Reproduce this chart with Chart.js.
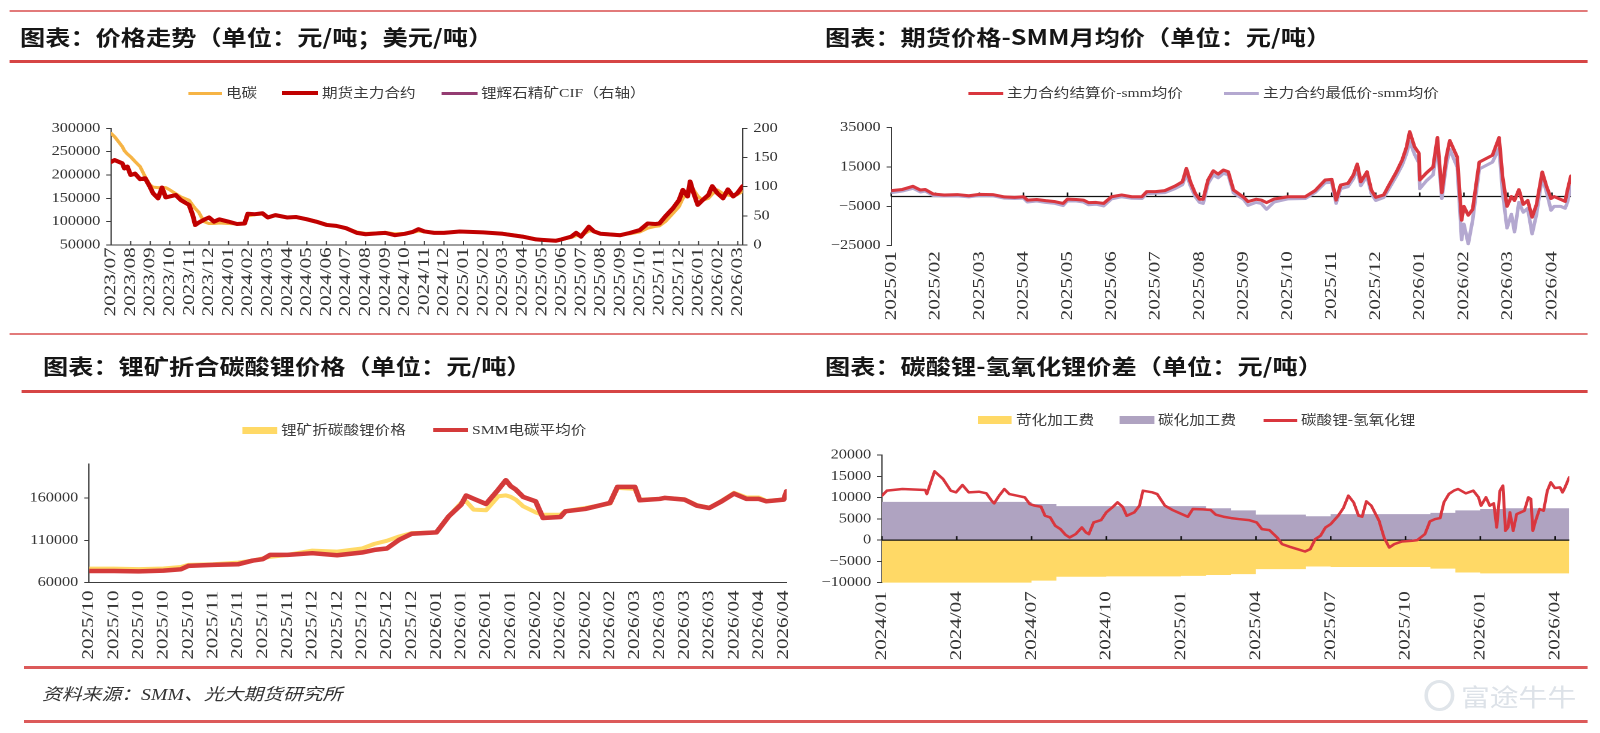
<!DOCTYPE html>
<html lang="zh-CN">
<head>
<meta charset="utf-8">
<title>碳酸锂价格图表</title>
<script src="https://cdn.jsdelivr.net/npm/chart.js@4.4.1/dist/chart.umd.min.js"></script>
<style>
  html, body { margin:0; padding:0; background:#fff; }
  body { width:1600px; height:733px; overflow:hidden; position:relative; }
  #page { position:absolute; left:0; top:0; width:1333.34px; height:733px; transform:scaleX(1.2); transform-origin:0 0; }
  .rule, .swatch, .chartbox { position:absolute; }
  .txt { position:absolute; white-space:nowrap; }
  .title { font-family:"Noto Sans CJK SC", sans-serif; font-weight:700; font-size:21px; line-height:26px; color:#161616; }
  .leg { font-family:"Liberation Serif","Noto Sans CJK SC",serif; font-size:13px; line-height:16px; color:#3a3a3a; }
  .foot { font-family:"Liberation Serif","Noto Sans CJK SC",serif; font-style:italic; font-size:16.5px; line-height:22px; color:#333; }
  .wm { font-family:"Noto Sans CJK SC",sans-serif; font-size:24px; line-height:30px; color:#dde2e8; }
</style>
</head>
<body>
<div id="page"></div>
<script>
// ================= DATA =================
// Chart 1: 价格走势 (x = months since 2023/07)
const c1Labels = ['2023/07','2023/08','2023/09','2023/10','2023/11','2023/12','2024/01','2024/02','2024/03','2024/04','2024/05','2024/06','2024/07','2024/08','2024/09','2024/10','2024/11','2024/12','2025/01','2025/02','2025/03','2025/04','2025/05','2025/06','2025/07','2025/08','2025/09','2025/10','2025/11','2025/12','2026/01','2026/02','2026/03'];
const c1X = [0,0.18,0.57,0.68,0.83,1.0,1.22,1.48,1.74,1.98,2.14,2.4,2.6,2.79,3.0,3.3,3.57,3.98,4.17,4.3,4.48,4.74,5.0,5.26,5.52,6.0,6.43,6.82,6.98,7.34,7.73,8.0,8.39,8.98,9.43,10.0,10.47,11.0,11.5,12.0,12.55,13.0,13.6,14.0,14.5,15.0,15.4,15.7,16.0,16.5,17.0,17.8,19.0,20.0,21.0,21.7,22.0,22.7,23.0,23.5,23.75,24.0,24.4,24.66,25.0,26.0,26.5,27.0,27.4,27.8,28.0,28.3,28.7,29.0,29.2,29.44,29.57,29.75,29.96,30.2,30.5,30.7,30.96,31.25,31.5,31.77,31.98,32.25];
const c1Carbonate = [289000,282000,261000,252000,245000,239000,229000,218000,196000,179000,174000,173000,173000,173000,168000,160000,153000,146000,135000,128000,120000,100000,96000,96000,97000,96000,95000,95000,112000,115000,116000,110000,113000,110000,110000,106000,101000,94000,91000,86000,78000,75000,76000,77000,74000,75000,77000,80000,78000,77000,77000,79000,77000,75000,69000,63000,61000,60000,62000,66000,70000,70000,80000,80000,75000,72000,74000,78000,86000,90000,91000,100000,118000,132000,150000,161000,165000,168000,155000,146000,150000,159000,168000,160000,157000,155000,158000,165000];
const c1Futures = [228000,232000,225000,214000,218000,200000,203000,191000,193000,175000,161000,150000,173000,152000,154000,157000,146000,136000,114000,93000,98000,104000,109000,100000,105000,100000,95000,96000,117000,116000,118000,109000,114000,109000,110000,105000,100000,93000,91000,86000,76000,73000,75000,76000,71000,74000,78000,84000,79000,76000,76000,79000,77000,74000,68000,62000,61000,59000,62000,68000,76000,68000,89000,79000,74000,71000,76000,82000,96000,95000,96000,111000,129000,146000,168000,154000,186000,161000,136000,146000,157000,176000,161000,150000,169000,154000,161000,176000];
const c1Spodumene = []; // 锂辉石精矿CIF（右轴）: no visible line in the reference

// Chart 2: 期货价格-SMM月均价 (x = months since 2025/01)
const c2Labels = ['2025/01','2025/02','2025/03','2025/04','2025/05','2025/06','2025/07','2025/08','2025/09','2025/10','2025/11','2025/12','2026/01','2026/02','2026/03','2026/04'];
const c2X = [0,0.25,0.49,0.66,0.77,0.95,1.2,1.5,1.76,2.0,2.3,2.57,2.8,3.0,3.09,3.3,3.5,3.72,3.9,4.0,4.2,4.36,4.48,4.65,4.82,5.0,5.23,5.46,5.69,5.8,6.0,6.21,6.44,6.61,6.7,6.79,6.9,7.0,7.08,7.19,7.31,7.42,7.54,7.65,7.77,8.0,8.1,8.28,8.4,8.52,8.69,9.0,9.4,9.62,9.85,10.0,10.1,10.2,10.37,10.49,10.58,10.66,10.8,10.9,11.0,11.18,11.3,11.47,11.6,11.7,11.77,11.88,11.98,12.0,12.15,12.3,12.4,12.5,12.6,12.68,12.85,12.95,13.0,13.1,13.2,13.28,13.35,13.65,13.8,13.88,13.98,14.08,14.15,14.25,14.35,14.45,14.55,14.65,14.78,14.88,14.98,15.05,15.2,15.3,15.35,15.43];
const c2Settle = [3000,3600,5200,3300,3600,1300,800,1000,400,1100,1000,-200,-400,-100,-1800,-1500,-2100,-2600,-3500,-1300,-1500,-1800,-3100,-3000,-3500,-100,800,-100,-100,2500,2500,3000,5300,7500,14300,7500,1600,-1400,-1400,8400,13100,11400,13500,12600,3300,-400,-2600,-1400,-1800,-3100,-1300,-100,-100,3000,8400,8700,-1800,5800,6700,10900,16500,7500,12600,3300,-400,800,5800,12600,18600,25300,33000,25300,22000,8400,12000,15000,30000,2000,20000,28500,20000,-12000,-5000,-9500,-6500,6500,17500,21000,30000,10000,-5000,0,-2000,3500,-4000,-2000,-10500,-4000,12500,5000,-1000,0,-1500,-2500,3000,10400];
const c2Low = [2000,2800,4200,2300,2800,500,300,300,-200,500,400,-800,-1000,-800,-2800,-2300,-3000,-3500,-4600,-2200,-2300,-2800,-4200,-3900,-4800,-1200,-100,-900,-1000,1500,1700,2000,4000,6000,11500,5500,0,-3000,-3500,6500,11000,9500,11800,11000,1800,-1500,-4500,-3000,-3500,-6500,-2800,-1200,-1000,2000,7000,7200,-3500,4000,5000,9000,13500,5500,10500,1500,-2000,-500,4000,10500,16000,22000,28000,21500,17000,4000,8000,11000,26000,-1000,16000,24000,15000,-22000,-14000,-24000,-12000,2000,14000,17500,24500,2000,-16000,-9000,-18000,-3000,-8000,-6000,-19000,-9000,10000,2000,-7000,-5000,-5000,-6000,-3000,5000];

// Chart 3: 锂矿折合碳酸锂价格 (x = label index, ~weekly)
const c3Labels = ['2025/10','2025/10','2025/10','2025/10','2025/10','2025/11','2025/11','2025/11','2025/11','2025/12','2025/12','2025/12','2025/12','2025/12','2026/01','2026/01','2026/01','2026/01','2026/02','2026/02','2026/02','2026/02','2026/03','2026/03','2026/03','2026/03','2026/04','2026/04','2026/04'];
const c3X = [0,1,2,3,3.7,4,5,6,6.6,7,7.3,8,9,10,11,11.5,12,12.5,13,14,14.5,15,15.2,15.5,16,16.5,16.8,17,17.2,17.5,18,18.3,19,19.2,20,21,21.3,22,22.2,23,23.2,24,24.5,25,25.5,26,26.5,27,27.3,28,28.12];
const c3Ore = [76600,76600,76000,76800,78500,81000,81700,83700,86000,88800,90500,92800,97900,96700,100300,105800,109400,114500,118500,119300,138300,154100,156000,146200,145400,162000,163000,161200,158000,150100,143000,140200,140200,144500,148100,153300,171900,170700,158000,158800,160000,158500,151500,148500,156500,166000,160500,160500,156500,158000,167500];
const c3Smm = [73800,73800,73400,74200,75800,79800,81000,81700,86100,87700,92800,92800,94800,92400,95600,98700,100300,110600,117700,119300,138300,152100,162800,159000,152900,169900,180900,173800,169900,161200,156000,136300,137500,144200,147000,154100,173000,173000,157200,158800,160000,158000,150900,148100,156000,165100,158800,158800,156000,158000,167900];

// Chart 4: 碳酸锂-氢氧化锂价差 (x = months since 2024/01)
const c4Labels = ['2024/01','2024/04','2024/07','2024/10','2025/01','2025/04','2025/07','2025/10','2026/01','2026/04'];
const c4MonthX = [0,1,2,3,4,5,6,7,8,9,10,11,12,13,14,15,16,17,18,19,20,21,22,23,24,25,26,27,27.57];
const c4Caustic = [-10400,-10400,-10400,-10400,-10100,-10100,-10100,-9500,-8600,-8600,-8500,-8500,-8500,-8400,-8200,-8000,-6800,-6800,-6200,-6300,-6300,-6300,-6300,-6700,-7600,-7800,-7800,-7800,-7800];
const c4Carbon = [9000,9000,9000,9000,9000,9000,9000,8500,8000,8000,8000,8000,8000,8000,7500,7000,6000,6000,5600,6100,6100,6100,6100,6400,7000,7300,7500,7500,7500];
const c4SpreadX = [0,0.2,0.82,1.74,1.8,2.11,2.45,2.76,2.97,3.23,3.48,3.89,4.19,4.4,4.5,4.7,4.91,5.11,5.42,5.73,5.93,6.13,6.38,6.54,6.75,6.95,7.16,7.36,7.53,7.77,8.02,8.18,8.3,8.49,8.79,9.0,9.24,9.45,9.65,9.82,10.12,10.33,10.47,10.84,11.04,11.35,11.66,11.96,12.27,12.47,12.88,13.19,13.39,13.7,14.01,14.31,14.72,15.03,15.24,15.54,15.85,16.05,16.36,16.67,16.97,17.18,17.38,17.59,17.79,18.0,18.3,18.51,18.71,18.92,19.12,19.26,19.43,19.63,19.94,20.14,20.35,20.55,20.86,21.27,21.47,21.78,21.98,22.19,22.39,22.54,22.74,22.94,23.11,23.42,23.72,23.93,24.03,24.23,24.38,24.54,24.66,24.79,24.91,25.01,25.11,25.19,25.32,25.46,25.77,25.93,26.03,26.11,26.22,26.38,26.54,26.69,26.83,26.99,27.2,27.3,27.4,27.57];
const c4Spread = [10440,11620,12010,11780,10830,16170,14370,11620,11230,12950,11230,11380,10990,9260,8640,10440,12010,10830,10440,10050,8480,8090,7850,5730,5340,3380,2590,1260,630,1410,2980,1810,1410,4160,4710,6520,7690,8870,7850,5730,6520,8090,11620,11230,10830,8090,7070,6280,5500,7300,7220,7070,5970,5500,5180,4950,4710,4160,2590,2360,630,-940,-1570,-2120,-2670,-2120,240,1020,2980,3770,5730,7540,10440,8870,5730,5500,9110,8090,4550,630,-1730,-940,-310,-160,0,1410,4400,4950,5180,8870,10830,11620,12010,10990,11620,10050,8090,10050,8090,8640,2980,11620,12800,2200,2980,6520,2200,6120,6910,10050,9660,2200,4550,7300,6910,11620,13580,12250,12400,11230,12400,14760];

// ================= LAYOUT HELPERS =================
const STRETCH = 1.2;                 // the reference is horizontally stretched
const LABEL_VSTRETCH = 1.56;         // rotated date labels are drawn taller in the reference
const page = document.getElementById('page');
const lx = v => v / STRETCH;         // page px -> logical px
const zip = (xs, ys) => xs.map((x, i) => ({ x: x, y: ys[i] }));
const AXIS = '#3c3c3c';
const fmt = v => (v < 0 ? '\u2212' + Math.abs(v) : String(v));

function rule(x1, x2, y, h, color) {
  const d = document.createElement('div');
  d.className = 'rule';
  Object.assign(d.style, { left: lx(x1) + 'px', width: lx(x2 - x1) + 'px', top: (y - h / 2) + 'px', height: h + 'px', background: color });
  page.appendChild(d);
}
function text(cls, str, x, yc, lh) {
  const d = document.createElement('div');
  d.className = 'txt ' + cls;
  d.textContent = str;
  d.style.left = lx(x) + 'px';
  d.style.top = (yc - lh / 2) + 'px';
  page.appendChild(d);
  return d;
}
function legend(chart, y, items) {
  items.forEach(it => {
    const ds = chart.data.datasets[it.ds];
    const sw = document.createElement('div');
    sw.className = 'swatch';
    Object.assign(sw.style, { left: lx(it.x) + 'px', width: lx(it.w) + 'px', top: (y - it.th / 2) + 'px', height: it.th + 'px',
      background: it.box ? ds.backgroundColor : ds.borderColor });
    page.appendChild(sw);
    text('leg', ds.label, it.x + it.w + 4, y, 16);
  });
}

const axisDecor = {
  id: 'axisDecor',
  afterLayout(chart) {
    const sx = chart.scales.x;
    if (sx && !sx._vPatched) {
      sx._vPatched = true;
      const proto = Object.getPrototypeOf(sx);
      sx.drawLabels = function (area) {
        const c = this.ctx;
        c.save();
        c.translate(0, this.top);
        c.scale(1, LABEL_VSTRETCH);
        c.translate(0, -this.top);
        proto.drawLabels.call(this, area);
        c.restore();
      };
    }
  },
  beforeDatasetsDraw(chart, a, o) { if (o.zero && o.zero.before == null) zeroLine(chart, o.zero); },
  beforeDatasetDraw(chart, a, o) { if (o.zero && o.zero.before === a.index) zeroLine(chart, o.zero); },
  afterDraw(chart, a, o) { if (o.innerTicks) innerTicks(chart, o.innerTicks); }
};
function zeroLine(chart, z) {
  const { ctx, chartArea: ca, scales } = chart;
  const y = scales.y.getPixelForValue(0);
  ctx.save();
  ctx.strokeStyle = z.color; ctx.lineWidth = z.width;
  ctx.beginPath(); ctx.moveTo(ca.left, y); ctx.lineTo(ca.right, y);
  scales.x.ticks.forEach(t => { const x = scales.x.getPixelForValue(t.value); ctx.moveTo(x, y); ctx.lineTo(x, y - z.tick); });
  ctx.stroke(); ctx.restore();
}
function innerTicks(chart, o) {
  const { ctx, chartArea: ca, scales } = chart;
  ctx.save(); ctx.strokeStyle = AXIS; ctx.lineWidth = 1;
  ctx.beginPath();
  scales.x.ticks.forEach(t => { const x = scales.x.getPixelForValue(t.value); ctx.moveTo(x, ca.bottom); ctx.lineTo(x, ca.bottom - o.len); });
  ctx.stroke(); ctx.restore();
}

function xAxis(labels, step, max, pad, border) {
  return {
    type: 'linear', position: 'bottom', min: 0, max: max, bounds: 'data',
    border: { display: border, color: AXIS, width: 1 },
    grid: { display: false, drawTicks: false },
    afterBuildTicks: s => { s.ticks = labels.map((_, i) => ({ value: i * step })); },
    ticks: { autoSkip: false, minRotation: 90, maxRotation: 90, padding: pad, font: { size: 13.5 }, color: '#333',
      callback: (v, i) => labels[i] }
  };
}
function yAxis(min, max, step, position, tickValues) {
  const ax = {
    type: 'linear', position: position, min: min, max: max, bounds: 'data',
    border: { display: true, color: AXIS, width: 1 },
    grid: { display: true, drawOnChartArea: false, drawTicks: true, tickLength: 4, color: AXIS },
    ticks: { stepSize: step, font: { size: 13.5 }, color: '#333', padding: 5, callback: fmt }
  };
  if (tickValues) ax.afterBuildTicks = s => { s.ticks = tickValues.map(v => ({ value: v })); };
  return ax;
}

function makeChart(box, plot, cfg) {
  const wrap = document.createElement('div');
  wrap.className = 'chartbox';
  Object.assign(wrap.style, { left: lx(box.x) + 'px', top: box.y + 'px', width: lx(box.w) + 'px', height: box.h + 'px' });
  const cv = document.createElement('canvas');
  wrap.appendChild(cv);
  page.appendChild(wrap);
  const leftW = lx(plot.l - box.x), rightW = lx(box.x + box.w - plot.r);
  const topPad = plot.t - box.y, bottomH = box.y + box.h - plot.b;
  const sc = cfg.options.scales;
  sc.x.afterFit = s => { s.height = bottomH; s.paddingLeft = 0; s.paddingRight = 0; };
  sc.y.afterFit = s => { s.width = leftW; };
  if (sc.y1) sc.y1.afterFit = s => { s.width = rightW; };
  Object.assign(cfg.options, {
    responsive: true, maintainAspectRatio: false, animation: false, devicePixelRatio: 2, events: [],
    layout: { padding: { top: topPad, left: 0, bottom: 0, right: sc.y1 ? 0 : rightW } }
  });
  cfg.options.plugins = Object.assign({ legend: { display: false }, tooltip: { enabled: false }, axisDecor: {} }, cfg.options.plugins || {});
  cfg.plugins = [axisDecor];
  return new Chart(cv, cfg);
}

Chart.defaults.font.family = '"Liberation Serif", "Times New Roman", serif';
Chart.defaults.color = '#333';
Chart.defaults.elements.point.radius = 0;
Chart.defaults.elements.line.tension = 0;
Chart.defaults.elements.line.borderJoinStyle = 'round';
Chart.defaults.elements.line.borderCapStyle = 'round';

// ================= STATIC FRAME =================
rule(10, 1588, 10.5, 2, '#E27A7A');
rule(10, 1588, 61.5, 2.5, '#D64545');
rule(10, 1588, 334, 2, '#E27A7A');
rule(22, 1588, 391.5, 2.5, '#D64545');
rule(24, 1587, 667, 3, '#DC5A5A');
rule(24, 1587, 721, 3, '#DC5A5A');

text('title', '图表：价格走势（单位：元/吨；美元/吨）', 20, 35.5, 26);
text('title', '图表：期货价格-SMM月均价（单位：元/吨）', 825, 35.5, 26);
text('title', '图表：锂矿折合碳酸锂价格（单位：元/吨）', 43, 365, 26);
text('title', '图表：碳酸锂-氢氧化锂价差（单位：元/吨）', 825, 365, 26);
text('foot', '资料来源：SMM、光大期货研究所', 42, 695, 22);
const logo = document.createElement('div');
Object.assign(logo.style, { position: 'absolute', left: lx(1424) + 'px', top: '680px', width: lx(30) + 'px', height: '31px',
  border: '3px solid #e0e5ea', borderRadius: '50%', boxSizing: 'border-box' });
page.appendChild(logo);
text('wm', '富途牛牛', 1461, 696, 30);

// ================= CHARTS =================
const ch1 = makeChart({ x: 0, y: 110, w: 800, h: 215 }, { l: 111, r: 742, t: 128.3, b: 245 }, {
  type: 'line',
  data: { datasets: [
    { label: '电碳', data: zip(c1X, c1Carbonate), borderColor: '#F6B445', borderWidth: 3, order: 1 },
    { label: '期货主力合约', data: zip(c1X, c1Futures), borderColor: '#C00000', borderWidth: 4, order: 0 },
    { label: '锂辉石精矿CIF（右轴）', data: c1Spodumene, borderColor: '#943C72', borderWidth: 3, yAxisID: 'y1', order: 2 }
  ] },
  options: {
    scales: { x: xAxis(c1Labels, 1, 32.25, 1.5, true), y: yAxis(50000, 300000, 50000, 'left'), y1: yAxis(0, 200, 50, 'right') },
    plugins: { axisDecor: { innerTicks: { len: 4 } } }
  }
});
legend(ch1, 93, [ { ds: 0, x: 188, w: 34, th: 3 }, { ds: 1, x: 282, w: 36, th: 4 }, { ds: 2, x: 441, w: 36, th: 3 } ]);

const ch2 = makeChart({ x: 800, y: 110, w: 800, h: 215 }, { l: 891, r: 1571, t: 127.7, b: 245.7 }, {
  type: 'line',
  data: { datasets: [
    { label: '主力合约结算价-smm均价', data: zip(c2X, c2Settle), borderColor: '#D9363E', borderWidth: 3, order: 0 },
    { label: '主力合约最低价-smm均价', data: zip(c2X, c2Low), borderColor: '#B4A8D0', borderWidth: 3, order: 1 }
  ] },
  options: {
    scales: { x: xAxis(c2Labels, 1, 15.43, 3.5, false), y: yAxis(-25000, 35000, 20000, 'left') },
    plugins: { axisDecor: { zero: { color: '#111', width: 1.3, tick: 4 } } }
  }
});
legend(ch2, 93, [ { ds: 0, x: 968, w: 35, th: 3 }, { ds: 1, x: 1224, w: 35, th: 3 } ]);

const ch3 = makeChart({ x: 0, y: 445, w: 800, h: 220 }, { l: 89, r: 786, t: 464, b: 582.7 }, {
  type: 'line',
  data: { datasets: [
    { label: '锂矿折碳酸锂价格', data: zip(c3X, c3Ore), borderColor: '#FFD966', backgroundColor: '#FFD966', borderWidth: 4, order: 1 },
    { label: 'SMM电碳平均价', data: zip(c3X, c3Smm), borderColor: '#D43A3A', borderWidth: 4.5, order: 0 }
  ] },
  options: {
    scales: { x: xAxis(c3Labels, 1, 28.12, 5, true), y: yAxis(60000, 200000, 50000, 'left', [60000, 110000, 160000]) }
  }
});
legend(ch3, 430, [ { ds: 0, x: 242, w: 35, th: 7, box: true }, { ds: 1, x: 433, w: 35, th: 3.5 } ]);

const ch4 = makeChart({ x: 800, y: 435, w: 800, h: 230 }, { l: 881.6, r: 1569.4, t: 455, b: 582.7 }, {
  type: 'line',
  data: { datasets: [
    { label: '苛化加工费', data: zip(c4MonthX, c4Caustic), stepped: 'after', fill: 'origin', backgroundColor: '#FFD966', borderColor: 'rgba(0,0,0,0)', borderWidth: 0, order: 1 },
    { label: '碳化加工费', data: zip(c4MonthX, c4Carbon), stepped: 'after', fill: 'origin', backgroundColor: '#AFA3C1', borderColor: 'rgba(0,0,0,0)', borderWidth: 0, order: 1 },
    { label: '碳酸锂-氢氧化锂', data: zip(c4SpreadX, c4Spread), borderColor: '#D9363E', borderWidth: 2.5, order: 0 }
  ] },
  options: {
    scales: { x: xAxis(c4Labels, 3, 27.57, 5.5, false), y: yAxis(-10000, 20000, 5000, 'left') },
    plugins: { axisDecor: { zero: { color: '#111', width: 1.3, tick: 4, before: 2 } } }
  }
});
legend(ch4, 420, [ { ds: 0, x: 978, w: 34, th: 7.5, box: true }, { ds: 1, x: 1120, w: 34, th: 7.5, box: true }, { ds: 2, x: 1263, w: 34, th: 3 } ]);
</script>
</body>
</html>
